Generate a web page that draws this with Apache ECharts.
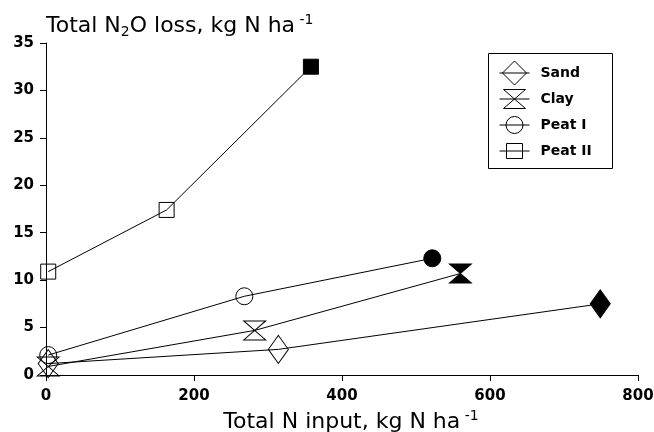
<!DOCTYPE html>
<html>
<head>
<meta charset="utf-8">
<script src="https://cdn.jsdelivr.net/npm/echarts@6/dist/echarts.min.js"></script>
<style>html,body{margin:0;padding:0;background:#fff}#c{width:654px;height:432px}</style>
</head>
<body>
<div id="c"></div>
<script>
// ---- data ----
const seriesNames = ['Sand', 'Clay', 'Peat I', 'Peat II'];
const sandX  = [3, 314, 749];  const sandY  = [1.2, 2.7, 7.5];
const clayX  = [3, 282, 560];  const clayY  = [0.9, 4.7, 10.7];
const peat1X = [3, 268, 522];  const peat1Y = [2.1, 8.3, 12.3];
const peat2X = [3, 163, 358];  const peat2Y = [10.9, 17.4, 32.5];
const filledPoint = [false, false, true]; // last point drawn solid
const xTicks = [0, 200, 400, 600, 800];
const yTicks = [0, 5, 10, 15, 20, 25, 30, 35];

// ---- styling ----
const FONT = 'DejaVu Sans';
const bowtie = 'path://M0,0L10,0L0,10L10,10Z';
const symbols = ['diamond', bowtie, 'circle', 'rect'];
const sizes = [[20, 28], [22, 19], 17, 15];
const legendIcons = [
  'path://M0,12L30,12M15,0L27,12L15,24L3,12Z',
  'path://M0,9.5L30,9.5M4,0L26,0L4,19L26,19Z',
  'path://M0,8.5L30,8.5M23.5,8.5A8.5,8.5,0,1,1,6.5,8.5A8.5,8.5,0,1,1,23.5,8.5Z',
  'path://M0,7.5L30,7.5M7,0L23,0L23,15L7,15Z'
];
const xs = [sandX, clayX, peat1X, peat2X];
const ys = [sandY, clayY, peat1Y, peat2Y];

function buildData(xArr, yArr) {
  return xArr.map((x, i) => ({
    value: [x, yArr[i]],
    itemStyle: filledPoint[i] ? { color: '#000' } : undefined
  }));
}

const series = seriesNames.map((name, k) => ({
  name: name,
  type: 'line',
  data: buildData(xs[k], ys[k]),
  symbol: symbols[k],
  symbolSize: sizes[k],
  clip: false,
  lineStyle: { color: '#000', width: 1 },
  itemStyle: { color: 'rgba(0,0,0,0)', borderColor: '#000', borderWidth: 1 },
  emphasis: { disabled: true }
}));

const chart = echarts.init(document.getElementById('c'), null, { renderer: 'canvas' });
chart.setOption({
  animation: false,
  backgroundColor: '#fff',
  grid: { left: 46, right: 16, top: 43, bottom: 57, outerBoundsMode: 'none', containLabel: false },
  xAxis: {
    type: 'value', min: 0, max: 800, interval: 200,
    name: '{a|Total N input, kg N ha}{sup| -1}',
    nameLocation: 'middle', nameGap: 31,
    nameTextStyle: {
      padding: [0, 0, 0, 18],
      rich: {
        a: { fontFamily: FONT, fontSize: 22, color: '#000', lineHeight: 26, verticalAlign: 'middle' },
        sup: { fontFamily: FONT, fontSize: 14, color: '#000', lineHeight: 22, verticalAlign: 'top' }
      }
    },
    axisLine: { lineStyle: { color: '#000', width: 1 } },
    axisTick: { inside: false, length: 6, lineStyle: { color: '#000' } },
    axisLabel: { color: '#000', fontFamily: FONT, fontWeight: 'bold', fontSize: 15, margin: 14,
      formatter: v => xTicks.includes(v) ? String(v) : '' },
    splitLine: { show: false }
  },
  yAxis: {
    type: 'value', min: 0, max: 35, interval: 5,
    name: '{a|Total N}{sub|2}{a|O loss, kg N ha}{sup| -1}',
    nameLocation: 'end', nameGap: 17,
    nameTextStyle: {
      align: 'left', verticalAlign: 'middle',
      rich: {
        a: { fontFamily: FONT, fontSize: 22, color: '#000', lineHeight: 26, verticalAlign: 'middle' },
        sub: { fontFamily: FONT, fontSize: 14, color: '#000', lineHeight: 15, verticalAlign: 'bottom' },
        sup: { fontFamily: FONT, fontSize: 14, color: '#000', lineHeight: 22, verticalAlign: 'top' }
      }
    },
    axisLine: { show: true, lineStyle: { color: '#000', width: 1 } },
    axisTick: { show: true, inside: false, length: 6, lineStyle: { color: '#000' } },
    axisLabel: { color: '#000', fontFamily: FONT, fontWeight: 'bold', fontSize: 15, margin: 12,
      formatter: v => yTicks.includes(v) ? String(v) : '' },
    splitLine: { show: false }
  },
  legend: {
    orient: 'vertical', left: 499, top: 60, padding: 0,
    itemWidth: 30, itemHeight: 24, itemGap: 0,
    selectedMode: false,
    symbolKeepAspect: true,
    itemStyle: { color: 'rgba(0,0,0,0)', borderColor: '#000', borderWidth: 1 },
    textStyle: { fontFamily: FONT, fontWeight: 'bold', fontSize: 14, lineHeight: 26, color: '#000', padding: [0, 0, 0, 6] },
    data: seriesNames.map((n, k) => ({ name: n, icon: legendIcons[k] }))
  },
  graphic: [{
    type: 'rect', silent: true,
    shape: { x: 488.5, y: 53.5, width: 124, height: 115 },
    style: { fill: 'none', stroke: '#000', lineWidth: 1 }
  }],
  series: series
});
</script>
</body>
</html>
